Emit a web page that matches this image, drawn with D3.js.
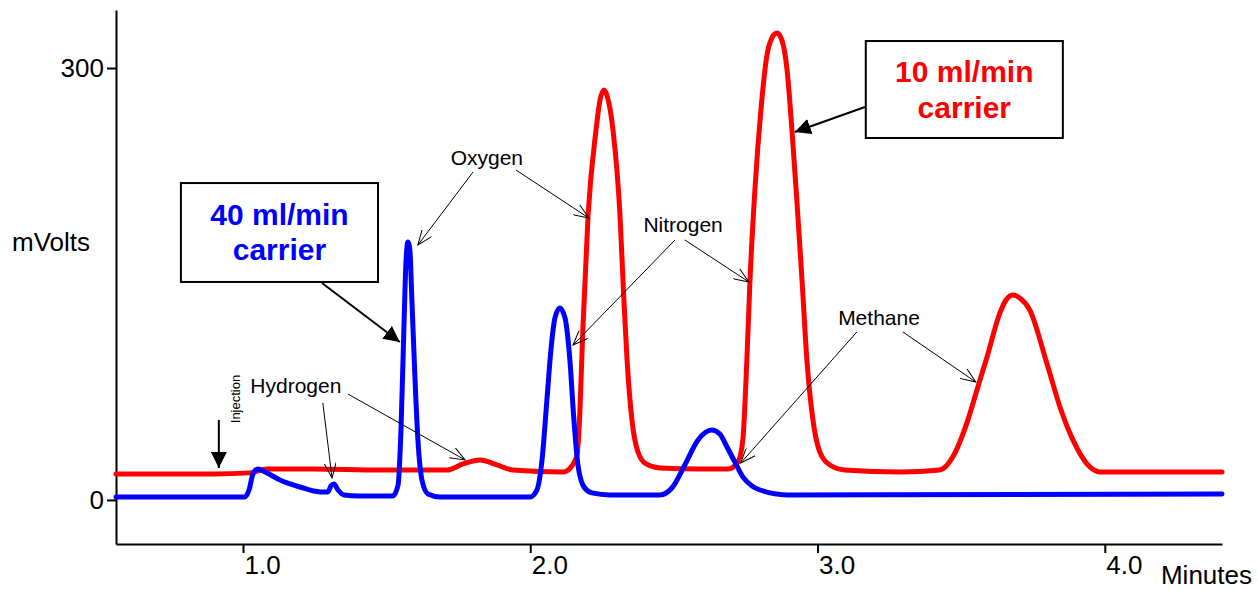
<!DOCTYPE html>
<html>
<head>
<meta charset="utf-8">
<script src="https://cdn.jsdelivr.net/npm/d3@7"></script>
<style>
  body { margin: 0; background: #fff; }
  svg text { font-family: Arial, "Liberation Sans", sans-serif; fill: #000; }
  .axis path, .axis line { stroke: #000; stroke-width: 2; }
  .axis text { font-size: 26px; }
  .axis-label { font-size: 26px; }
  .trace { fill: none; stroke-width: 5; stroke-linejoin: round; stroke-linecap: round; }
  .peak-label { font-size: 21px; }
  .pointer { stroke: #000; stroke-width: 1; fill: none; }
  .carrier-box { fill: #fff; stroke: #000; stroke-width: 2; }
  .carrier-text { font-size: 30px; font-weight: bold; }
</style>
</head>
<body>
<div id="chart"></div>
<script>
// tick values
const xTicks = [1, 2, 3, 4];
const yTicks = [0, 300];

// 10 ml/min carrier trace [minutes, mVolts]
const redTrace = [
  [0.558, 18.1], [0.896, 18.1], [1.024, 18.8], [1.084, 21.5], [1.244, 21.5],
  [1.477, 20.8], [1.710, 20.8], [1.766, 25.0], [1.825, 27.8], [1.884, 24.3],
  [1.940, 20.8], [2.114, 19.4], [2.145, 23.6], [2.163, 31.3], [2.173, 62.5],
  [2.183, 118], [2.201, 196.5], [2.229, 257], [2.243, 278], [2.257, 284.7],
  [2.270, 279], [2.288, 257], [2.312, 199.3], [2.326, 138.9], [2.337, 97.2],
  [2.354, 55.6], [2.375, 33.3], [2.403, 25.0], [2.451, 22.2], [2.591, 21.5],
  [2.688, 21.5], [2.723, 26.4], [2.740, 41.7], [2.754, 97.2], [2.765, 152.8],
  [2.782, 215.3], [2.803, 270.8], [2.824, 309], [2.841, 320.8], [2.859, 324.3],
  [2.876, 319.4], [2.894, 298.6], [2.911, 256.9], [2.928, 208.3], [2.946, 152.8],
  [2.963, 97.2], [2.984, 55.6], [3.008, 33.3], [3.043, 24.3], [3.095, 20.8],
  [3.287, 19.4], [3.426, 20.8], [3.471, 29.9], [3.520, 53.5], [3.555, 76.4],
  [3.590, 99.3], [3.635, 129.9], [3.656, 138.9], [3.680, 142.4], [3.704, 140.3],
  [3.739, 131.9], [3.798, 95.1], [3.844, 64.6], [3.889, 41.7], [3.948, 22.9],
  [3.983, 19.4], [4.157, 19.4], [4.408, 19.4],
];

// 40 ml/min carrier trace [minutes, mVolts]
const blueTrace = [
  [0.558, 2.1], [1.007, 2.1], [1.021, 6.9], [1.035, 18.1], [1.052, 21.5],
  [1.077, 19.4], [1.129, 13.9], [1.198, 9.0], [1.268, 5.6], [1.296, 5.6],
  [1.306, 9.7], [1.317, 11.1], [1.331, 6.9], [1.352, 3.5], [1.407, 2.8],
  [1.522, 2.8], [1.540, 10.4], [1.550, 48.6], [1.560, 118], [1.567, 163.2],
  [1.574, 179.2], [1.581, 173.6], [1.588, 138.9], [1.599, 83.3], [1.609, 41.7],
  [1.623, 13.9], [1.644, 4.2], [1.686, 2.1], [1.999, 2.1], [2.023, 6.9],
  [2.041, 27.8], [2.058, 69.4], [2.072, 104.2], [2.086, 126.4], [2.103, 133.3],
  [2.121, 126.4], [2.138, 97.2], [2.152, 55.6], [2.166, 24.3], [2.187, 9.0],
  [2.215, 4.9], [2.277, 3.5], [2.451, 3.5], [2.493, 8.3], [2.538, 24.3],
  [2.584, 41.7], [2.632, 48.6], [2.660, 45.8], [2.685, 36.8], [2.712, 26.4],
  [2.740, 16.0], [2.772, 9.7], [2.800, 6.9], [2.893, 3.5], [4.408, 4.2],
];

// peak labels: text anchor point and pointer lines, all in [minutes, mVolts]
const peakLabels = [
  { text: "Hydrogen", at: [1.184, 74.3],
    pointers: [[[1.278, 67.4], [1.310, 15.3]], [[1.365, 73.6], [1.773, 27.8]]] },
  { text: "Oxygen", at: [1.849, 232.6],
    pointers: [[[1.801, 227.8], [1.609, 177.1]], [[1.950, 229.2], [2.204, 195.8]]] },
  { text: "Nitrogen", at: [2.532, 186.1],
    pointers: [[[2.504, 180.6], [2.149, 107.6]], [[2.538, 180.6], [2.761, 151.4]]] },
  { text: "Methane", at: [3.214, 121.5],
    pointers: [[[3.137, 116.7], [2.733, 25.7]], [[3.297, 116.7], [3.551, 81.9]]] },
];

const carrierBoxes = [
  { lines: ["40 ml/min", "carrier"], colour: "#0000ff",
    box: [[0.784, 220.1], [1.470, 151.4]], baselines: [191, 166.7],
    arrow: [[1.275, 150.7], [1.546, 109.7]] },
  { lines: ["10 ml/min", "carrier"], colour: "#ff0000",
    box: [[3.168, 318.75], [3.854, 251.4]], baselines: [290.3, 265.3],
    arrow: [[3.165, 272.9], [2.921, 255.6]] },
];

const injection = { text: "Injection", at: [0.990, 70.1], arrow: [[0.916, 55.6], [0.916, 22.2]] };

class Chromatogram {
  constructor(_config) {
    this.config = {
      parentElement: _config.parentElement,
      containerWidth: _config.containerWidth || 1258,
      containerHeight: _config.containerHeight || 590,
      margin: _config.margin || { top: 10, right: 36, bottom: 46, left: 116 },
    };
    this.initVis();
  }

  initVis() {
    let vis = this;

    vis.width = vis.config.containerWidth - vis.config.margin.left - vis.config.margin.right;
    vis.height = vis.config.containerHeight - vis.config.margin.top - vis.config.margin.bottom;

    vis.xScale = d3.scaleLinear().domain([0.558, 4.408]).range([0, vis.width]);
    vis.yScale = d3.scaleLinear().domain([-30.6, 340.3]).range([vis.height, 0]);

    vis.xAxis = d3.axisBottom(vis.xScale)
      .tickValues(xTicks)
      .tickFormat(d3.format(".1f"))
      .tickSizeInner(9)
      .tickSizeOuter(0)
      .tickPadding(3);

    vis.yAxis = d3.axisLeft(vis.yScale)
      .tickValues(yTicks)
      .tickSizeInner(9)
      .tickSizeOuter(0)
      .tickPadding(3);

    vis.svg = d3.select(vis.config.parentElement)
      .append("svg")
      .attr("width", vis.config.containerWidth)
      .attr("height", vis.config.containerHeight);

    const defs = vis.svg.append("defs");
    defs.append("marker")
      .attr("id", "open-head")
      .attr("markerUnits", "userSpaceOnUse")
      .attr("viewBox", "0 0 16 12")
      .attr("refX", 15)
      .attr("refY", 6)
      .attr("markerWidth", 16)
      .attr("markerHeight", 12)
      .attr("orient", "auto")
      .append("path")
      .attr("d", "M0,0 L15,6 L0,12")
      .attr("fill", "none")
      .attr("stroke", "#000")
      .attr("stroke-width", 1);
    defs.append("marker")
      .attr("id", "solid-head")
      .attr("markerUnits", "userSpaceOnUse")
      .attr("viewBox", "0 0 16 16")
      .attr("refX", 16)
      .attr("refY", 8)
      .attr("markerWidth", 16)
      .attr("markerHeight", 16)
      .attr("orient", "auto")
      .append("path")
      .attr("d", "M0,0 L16,8 L0,16 Z")
      .attr("fill", "#000");

    vis.chart = vis.svg.append("g")
      .attr("transform", `translate(${vis.config.margin.left},${vis.config.margin.top})`);

    vis.xAxisG = vis.chart.append("g")
      .attr("class", "axis x-axis")
      .attr("transform", `translate(0,${vis.height})`);
    vis.yAxisG = vis.chart.append("g").attr("class", "axis y-axis");

    vis.svg.append("text")
      .attr("class", "axis-label")
      .attr("x", 12)
      .attr("y", 251)
      .text("mVolts");

    vis.svg.append("text")
      .attr("class", "axis-label")
      .attr("text-anchor", "end")
      .attr("x", 1252)
      .attr("y", 584)
      .text("Minutes");

    vis.renderVis();
  }

  renderVis() {
    let vis = this;
    const px = (d) => vis.xScale(d[0]);
    const py = (d) => vis.yScale(d[1]);

    vis.line = d3.line().x(px).y(py).curve(d3.curveMonotoneX);

    vis.chart.append("path")
      .datum(redTrace)
      .attr("class", "trace")
      .attr("stroke", "#ff0000")
      .attr("d", vis.line);

    vis.chart.append("path")
      .datum(blueTrace)
      .attr("class", "trace")
      .attr("stroke", "#0000ff")
      .attr("d", vis.line);

    // peak labels with thin pointers
    const labels = vis.chart.selectAll(".peak-group")
      .data(peakLabels)
      .join("g")
      .attr("class", "peak-group");

    labels.append("text")
      .attr("class", "peak-label")
      .attr("text-anchor", "middle")
      .attr("x", (d) => px(d.at))
      .attr("y", (d) => py(d.at))
      .text((d) => d.text);

    labels.selectAll(".pointer")
      .data((d) => d.pointers)
      .join("line")
      .attr("class", "pointer")
      .attr("x1", (d) => px(d[0]))
      .attr("y1", (d) => py(d[0]))
      .attr("x2", (d) => px(d[1]))
      .attr("y2", (d) => py(d[1]))
      .attr("marker-end", "url(#open-head)");

    // carrier boxes
    const boxes = vis.chart.selectAll(".carrier-group")
      .data(carrierBoxes)
      .join("g")
      .attr("class", "carrier-group");

    boxes.append("line")
      .attr("x1", (d) => px(d.arrow[0]))
      .attr("y1", (d) => py(d.arrow[0]))
      .attr("x2", (d) => px(d.arrow[1]))
      .attr("y2", (d) => py(d.arrow[1]))
      .attr("stroke", "#000")
      .attr("stroke-width", 2)
      .attr("marker-end", "url(#solid-head)");

    boxes.append("rect")
      .attr("class", "carrier-box")
      .attr("x", (d) => px(d.box[0]))
      .attr("y", (d) => py(d.box[0]))
      .attr("width", (d) => px(d.box[1]) - px(d.box[0]))
      .attr("height", (d) => py(d.box[1]) - py(d.box[0]));

    boxes.each(function (d) {
      const g = d3.select(this);
      const cx = (px(d.box[0]) + px(d.box[1])) / 2;
      d.lines.forEach((t, i) => {
        g.append("text")
          .attr("class", "carrier-text")
          .attr("text-anchor", "middle")
          .attr("x", cx)
          .attr("y", vis.yScale(d.baselines[i]))
          .style("fill", d.colour)
          .text(t);
      });
    });

    // injection marker
    vis.chart.append("line")
      .attr("x1", px(injection.arrow[0]))
      .attr("y1", py(injection.arrow[0]))
      .attr("x2", px(injection.arrow[1]))
      .attr("y2", py(injection.arrow[1]))
      .attr("stroke", "#000")
      .attr("stroke-width", 2)
      .attr("marker-end", "url(#solid-head)");

    vis.chart.append("text")
      .attr("text-anchor", "middle")
      .attr("font-size", 13)
      .attr("transform", `translate(${px(injection.at)},${py(injection.at)}) rotate(-90)`)
      .text(injection.text);

    vis.xAxisG.call(vis.xAxis);
    vis.xAxisG.selectAll(".tick text").attr("text-anchor", "start").attr("x", 1);
    vis.yAxisG.call(vis.yAxis);
  }
}

new Chromatogram({ parentElement: "#chart" });
</script>
</body>
</html>
